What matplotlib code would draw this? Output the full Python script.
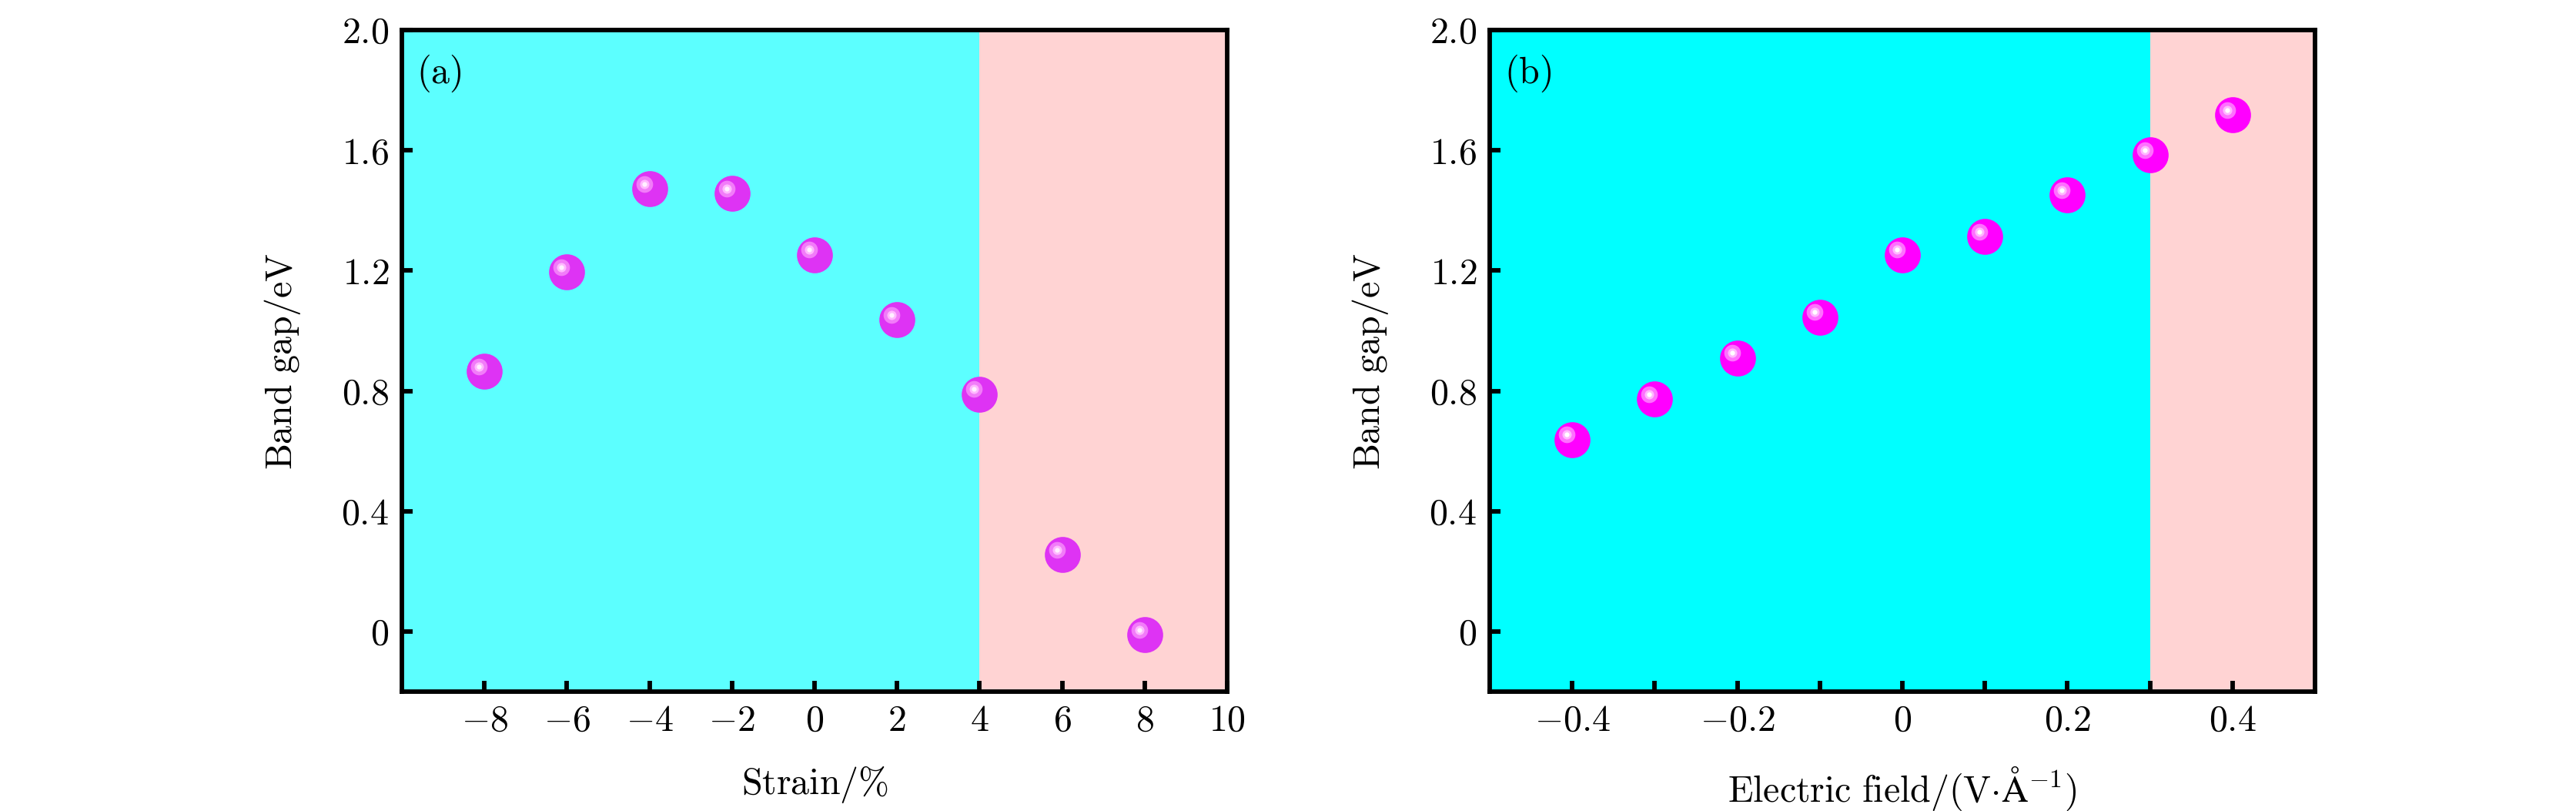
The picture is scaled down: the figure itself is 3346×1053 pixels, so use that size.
"""Band gap vs strain and electric field"""

import matplotlib
matplotlib.use('Agg')
from matplotlib import pyplot as plt
from matplotlib.transforms import offset_copy

plt.rcParams['mathtext.fontset'] = 'cm'
plt.rcParams['font.family'] = 'serif'
plt.rcParams['font.serif'] = ['cmr10', 'DejaVu Serif']
plt.rcParams['axes.unicode_minus'] = False

# Data
strain = [-8, -6, -4, -2, 0, 2, 4, 6, 8]
gap_strain = [0.865, 1.195, 1.473, 1.456, 1.253, 1.037, 0.790, 0.256, -0.01]

field = [-0.4, -0.3, -0.2, -0.1, 0.0, 0.1, 0.2, 0.3, 0.4]
gap_field = [0.639, 0.773, 0.910, 1.046, 1.253, 1.313, 1.451, 1.585, 1.717]

yticks = [0, 0.4, 0.8, 1.2, 1.6, 2.0]
ytick_labels = ['0', '0.4', '0.8', '1.2', '1.6', '2.0']
xticks_a = [-8, -6, -4, -2, 0, 2, 4, 6, 8, 10]
xticks_b = [-0.4, -0.3, -0.2, -0.1, 0, 0.1, 0.2, 0.3, 0.4]
xtick_labels_b = ['-0.4', '', '-0.2', '', '0', '', '0.2', '', '0.4']

FS = 11.5


def draw_spheres(ax, fig, x, y, colors):
    # fake 3D ball: base disc plus offset highlight rings
    sizes = [11.2, 5.2, 2.9, 1.5]
    for i, (ms, col) in enumerate(zip(sizes, colors)):
        if i == 0:
            tr = ax.transData
        else:
            tr = offset_copy(ax.transData, fig=fig, x=-1.7, y=1.5, units='points')
        ax.plot(x, y, 'o', ms=ms, mew=0, color=col, transform=tr,
                zorder=5 + i, clip_on=False)


def style_axes(ax):
    for sp in ax.spines.values():
        sp.set_linewidth(1.4)
    ax.tick_params(direction='in', length=3.4, width=1.4, labelsize=FS,
                   pad=4, top=False, right=False)
    ax.set_ylim(-0.2, 2.0)
    ax.set_yticks(yticks, labels=['$%s$' % s for s in ytick_labels])
    ax.set_ylabel(r'$\mathrm{Band\ gap/eV}$', fontsize=FS, labelpad=12)


fig = plt.figure(figsize=(3346 / 300., 1053 / 300.), dpi=300)
ax1 = fig.add_axes([0.1560, 0.147, 0.3204, 0.816])
ax2 = fig.add_axes([0.5783, 0.147, 0.3204, 0.816])

# (a) strain
ax1.axvspan(-10, 4, color='#5CFFFF', lw=0, zorder=0)
ax1.axvspan(4, 10, color='#FFD3D3', lw=0, zorder=0)
draw_spheres(ax1, fig, strain, gap_strain, ['#DE33F4', '#F27CF9', '#FFB8FF', '#FFF0FF'])
ax1.set_xlim(-10, 10)
ax1.set_xticks(xticks_a, labels=['$%g$' % v for v in xticks_a])
style_axes(ax1)
ax1.set_xlabel(r'$\mathrm{Strain/\%}$', fontsize=FS, labelpad=8)
ax1.text(0.018, 0.965, '$\\mathrm{(a)}$', transform=ax1.transAxes,
         fontsize=FS, va='top', ha='left')

# (b) electric field
ax2.axvspan(-0.5, 0.3, color='#00FFFF', lw=0, zorder=0)
ax2.axvspan(0.3, 0.5, color='#FFD3D3', lw=0, zorder=0)
draw_spheres(ax2, fig, field, gap_field, ['#FF00FF', '#FF70FF', '#FFB8FF', '#FFFFFF'])
ax2.set_xlim(-0.5, 0.5)
ax2.set_xticks(xticks_b, labels=['$%s$' % s if s else '' for s in xtick_labels_b])
style_axes(ax2)
ax2.set_xlabel(r'$\mathrm{Electric\ field/(V{\cdot}\AA^{-1})}$', fontsize=FS, labelpad=8)
ax2.text(0.018, 0.965, '$\\mathrm{(b)}$', transform=ax2.transAxes,
         fontsize=FS, va='top', ha='left')

fig.savefig('out.png', dpi=300)
